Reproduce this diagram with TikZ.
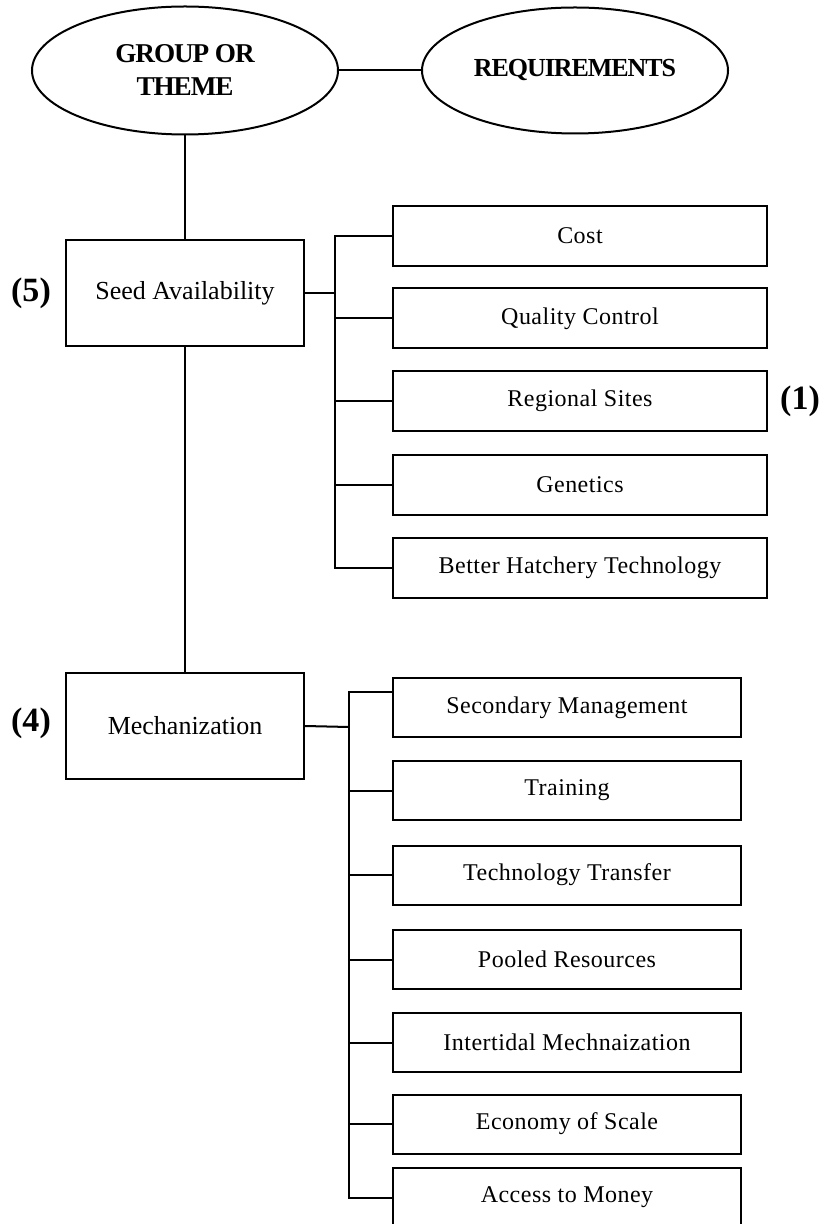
\documentclass[tikz,border=0pt]{standalone}
\usepackage{fontspec}
\setmainfont{Liberation Serif}
\newfontfamily\headfont[LetterSpace=-4]{Liberation Serif}
\newfontfamily\boxfont[LetterSpace=2]{Liberation Serif}
\usetikzlibrary{shapes.geometric}
\tikzset{
  theme/.style={draw,ellipse,line width=1pt,inner sep=0pt,minimum width=153pt,minimum height=64pt,
    align=center,font=\headfont\bfseries\fontsize{13}{16.5}\selectfont},
  group/.style={draw,line width=1pt,minimum width=119pt,minimum height=53pt,
    font=\fontsize{13}{15}\selectfont},
  req/.style={draw,line width=1pt,inner sep=0pt,font=\boxfont\fontsize{12}{14}\selectfont},
  rank/.style={font=\bfseries\fontsize{17}{20}\selectfont},
  link/.style={line width=1pt}
}
\begin{document}
\begin{tikzpicture}[x=0.5pt,y=-0.5pt]
\useasboundingbox (0,0) rectangle (829,1224);
\node[theme,font=\headfont\bfseries\fontsize{13.6}{16.5}\selectfont] (grp) at (185,70.5) {GROUP OR\\THEME};
\node[theme,minimum height=63pt] (req) at (575,70.5) {REQUIREMENTS};
\node[group] (seed) at (185,293) {Seed Availability};
\node[group] (mech) at (185,726) {Mechanization};
\node[rank] (r5) at (31,293) {(5)};
\node[rank] (r4) at (31,723) {(4)};
% requirements of each group
\foreach \i/\t/\y in {1/Cost/236,2/Quality Control/318.5,3/Regional Sites/401,4/Genetics/485,5/Better Hatchery Technology/568}
  \node[req,minimum width=187pt,minimum height=30pt] (s\i) at (580,\y) {\t};
\foreach \i/\t/\y in {1/Secondary Management/707.5,2/Training/790.5,3/Technology Transfer/875,4/Pooled Resources/959.5,
    5/Intertidal Mechnaization/1042.5,6/Economy of Scale/1124,7/Access to Money/1197.5}
  \node[req,minimum width=174pt,minimum height=29.5pt] (m\i) at (567,\y) {\t};
\node[rank] (r1) at (800,401) {(1)};
\coordinate (sbus) at (335,293);
\coordinate (mbus) at (349,727);
\draw[link] (grp) -- (req);
\draw[link] (grp) -- (seed);
\draw[link] (seed) -- (mech);
\draw[link] (seed.east) -- (sbus);
\draw[link] (mech.east) -- (mbus);
\foreach \i in {1,...,5}
  \draw[link] (sbus) |- (s\i.west);
\draw[link] (mbus) |- ([yshift=7.75pt]m1.west);
\foreach \i in {2,...,7}
  \draw[link] (mbus) |- (m\i.west);
\end{tikzpicture}
\end{document}
